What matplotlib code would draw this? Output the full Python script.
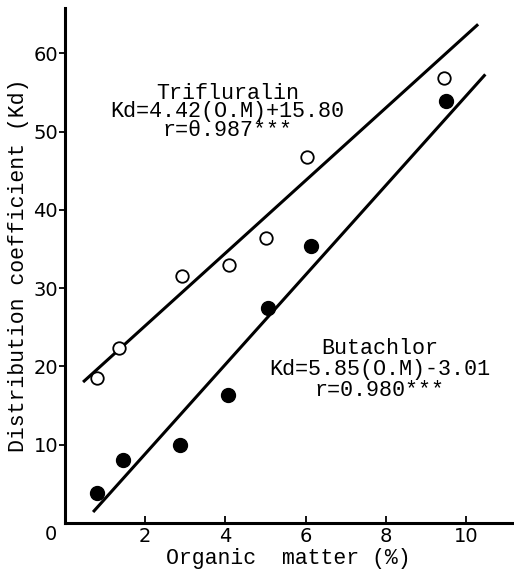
import matplotlib
matplotlib.use('Agg')
import matplotlib.pyplot as plt

# Trifluralin (open circles)
tri_om = [0.8, 1.35, 2.92, 4.1, 5.02, 6.04, 9.44]
tri_kd = [18.5, 22.3, 31.5, 33.0, 36.4, 46.8, 56.9]
# Butachlor (filled circles)
but_om = [0.8, 1.45, 2.87, 4.06, 5.05, 6.14, 9.49]
but_kd = [3.8, 8.0, 9.9, 16.3, 27.5, 35.4, 53.9]

# regression lines as drawn in the figure (end points)
tri_fit_om = [0.45, 10.3]
tri_fit_kd = [18.0, 63.7]
but_fit_om = [0.7, 10.48]
but_fit_kd = [1.4, 57.3]

xticks = [2, 4, 6, 8, 10]
yticks = [10, 20, 30, 40, 50, 60]

mono = 'Liberation Mono'

fig = plt.figure(figsize=(5.14, 5.73), dpi=100)
ax = fig.add_axes([0.1265, 0.0873, 0.87, 0.899])

ax.plot(tri_fit_om, tri_fit_kd, color='black', linewidth=2.2, solid_capstyle='butt')
ax.plot(but_fit_om, but_fit_kd, color='black', linewidth=2.2, solid_capstyle='butt')
ax.plot(tri_om, tri_kd, 'o', markersize=9, markerfacecolor='white',
        markeredgecolor='black', markeredgewidth=1.3, zorder=3)
ax.plot(but_om, but_kd, 'o', markersize=10, color='black', zorder=3)

ax.set_xlim(0, 11.15)
ax.set_ylim(0, 65.8)
ax.set_xticks(xticks)
ax.set_yticks(yticks)

for side in ['top', 'right']:
    ax.spines[side].set_visible(False)
for side in ['left', 'bottom']:
    ax.spines[side].set_linewidth(2.2)

ax.tick_params(axis='x', direction='in', length=5, width=1.3, pad=3, labelsize=14)
ax.tick_params(axis='y', direction='out', length=4, width=1.3, pad=1, labelsize=14)
ax.annotate('0', xy=(0, 0), xytext=(-10, -8), textcoords='offset points',
            ha='center', va='center', fontsize=14)

ax.set_xlabel('Organic  matter (%)', family=mono, fontsize=15.5, labelpad=1)
ax.set_ylabel('Distribution coefficient (Kd)', family=mono, fontsize=15.5, labelpad=3)

ax.text(4.05, 56.2, 'Trifluralin\nKd=4.42(O.M)+15.80\nr=θ.987***', family=mono,
        fontsize=15.7, ha='center', va='top', linespacing=0.83)
ax.text(7.85, 23.6, 'Butachlor\nKd=5.85(O.M)-3.01\nr=0.980***', family=mono,
        fontsize=15.7, ha='center', va='top', linespacing=1.0)

fig.savefig('out.png', dpi=100)
